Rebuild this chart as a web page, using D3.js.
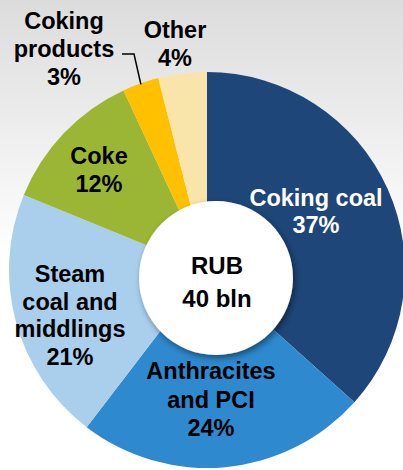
<!DOCTYPE html>
<html>
<head>
<meta charset="utf-8">
<script src="https://cdn.jsdelivr.net/npm/d3@7"></script>
<style>
  html, body { margin: 0; padding: 0; background: #fff; }
  svg { display: block; }
  text { font-family: "Liberation Sans", Arial, sans-serif; font-weight: bold; }
</style>
</head>
<body>
<svg id="chart" width="403" height="470"></svg>
<script>
// Revenue structure by product, % of total
const categories = ["Coking coal", "Anthracites and PCI", "Steam coal and middlings", "Coke", "Coking products", "Other"];
const shares = [37, 24, 21, 12, 3, 4];
const labelLines = [
  ["Coking coal"],
  ["Anthracites", "and PCI"],
  ["Steam", "coal and", "middlings"],
  ["Coke"],
  ["Coking", "products"],
  ["Other"]
];
const totalLines = ["RUB", "40 bln"];

const palette = ["#1e4678", "#2e89cf", "#a9cfed", "#9bb634", "#ffc000", "#f9e4a9"];
const textColors = ["#ffffff", "#000000", "#000000", "#000000", "#000000", "#000000"];

// label anchors: centre x, first baseline y, line step
const labelLayout = [
  { x: 316, y: 206, step: 27 },
  { x: 211, y: 379, step: 28.5 },
  { x: 70,  y: 282, step: 27.7 },
  { x: 99,  y: 164, step: 27.7 },
  { x: 64,  y: 29,  step: 28 },
  { x: 175, y: 38,  step: 28 }
];

const W = 403, H = 470;
const cx = 207, cy = 270, R = 198;
const hole = { x: 216, y: 278, r: 77 };
const fontSize = 23.5;

const svg = d3.select("#chart");
const defs = svg.append("defs");

const bg = defs.append("linearGradient").attr("id", "bg")
  .attr("x1", 0).attr("y1", 0).attr("x2", 0).attr("y2", 1);
bg.append("stop").attr("offset", "0%").attr("stop-color", "#dcdcdc");
bg.append("stop").attr("offset", "55%").attr("stop-color", "#ffffff");
bg.append("stop").attr("offset", "100%").attr("stop-color", "#ffffff");

const shadow = defs.append("filter").attr("id", "holeShadow")
  .attr("x", "-30%").attr("y", "-30%").attr("width", "160%").attr("height", "160%");
shadow.append("feDropShadow")
  .attr("dx", 2).attr("dy", 3).attr("stdDeviation", 3)
  .attr("flood-color", "#000").attr("flood-opacity", 0.45);

svg.append("rect").attr("width", W).attr("height", H).attr("fill", "url(#bg)");

const pie = d3.pie().sort(null).value(d => d);
const arcs = pie(shares);
const arc = d3.arc().innerRadius(0).outerRadius(R);

const g = svg.append("g").attr("transform", `translate(${cx},${cy})`);
g.selectAll("path.slice")
  .data(arcs)
  .join("path")
  .attr("class", "slice")
  .attr("d", arc)
  .attr("fill", (d, i) => palette[i]);

// centre disc with total
svg.append("circle")
  .attr("cx", hole.x).attr("cy", hole.y).attr("r", hole.r)
  .attr("fill", "#ffffff")
  .attr("filter", "url(#holeShadow)");

svg.append("text")
  .attr("x", 217).attr("y", 274)
  .attr("text-anchor", "middle")
  .attr("font-size", 24)
  .attr("fill", "#000")
  .selectAll("tspan")
  .data(totalLines)
  .join("tspan")
  .attr("x", 217)
  .attr("dy", (d, i) => i === 0 ? 0 : 33)
  .text(d => d);

// leader line for the thin "Coking products" slice
const cp = arcs[4];
const mid = (cp.startAngle + cp.endAngle) / 2;
const tip = [cx + (R - 1) * Math.sin(mid), cy - (R - 1) * Math.cos(mid)];
svg.append("path")
  .attr("d", d3.line()([[122, 54], [134, 54], tip]))
  .attr("fill", "none")
  .attr("stroke", "#000")
  .attr("stroke-width", 1.5);

// slice labels
const labels = svg.append("g");
categories.forEach((c, i) => {
  const L = labelLayout[i];
  const lines = labelLines[i].concat([shares[i] + "%"]);
  labels.append("text")
    .attr("x", L.x).attr("y", L.y)
    .attr("text-anchor", "middle")
    .attr("font-size", fontSize)
    .attr("fill", textColors[i])
    .selectAll("tspan")
    .data(lines)
    .join("tspan")
    .attr("x", L.x)
    .attr("dy", (d, j) => j === 0 ? 0 : L.step)
    .text(d => d);
});
</script>
</body>
</html>
